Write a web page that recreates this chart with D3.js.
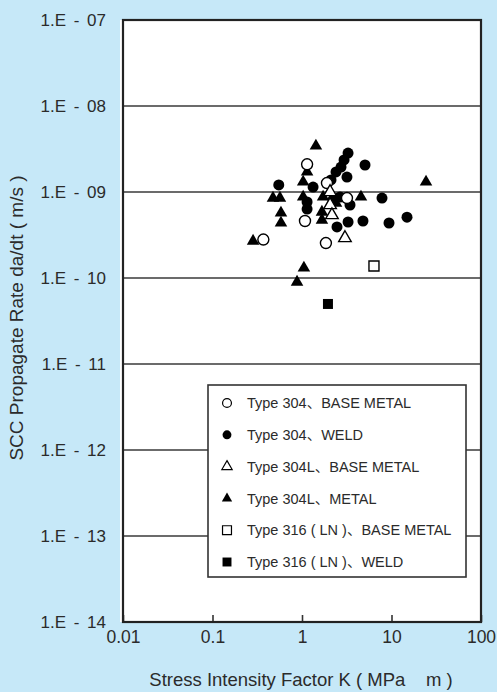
<!DOCTYPE html>
<html><head><meta charset="utf-8">
<script src="https://cdn.jsdelivr.net/npm/d3@7"></script>
<style>
html,body{margin:0;padding:0;background:#c6e8f8;}
svg{display:block;}
text{font-family:"Liberation Sans",Arial,"Noto Sans CJK JP",sans-serif;fill:#2b2b2b;white-space:pre;}
</style>
</head><body>
<svg id="c" width="497" height="692"></svg>
<script>
// ---- data ----
const xTicks = [0.01, 0.1, 1, 10, 100];
const xTickLabels = ["0.01", "0.1", "1", "10", "100"];
const yTicks = [1e-14, 1e-13, 1e-12, 1e-11, 1e-10, 1e-9, 1e-8, 1e-7];
const yTickLabels = ["1.E - 14", "1.E - 13", "1.E - 12", "1.E - 11", "1.E - 10", "1.E - 09", "1.E - 08", "1.E - 07"];
const seriesNames = ["Type 304、BASE METAL", "Type 304、WELD", "Type 304L、BASE METAL", "Type 304L、METAL", "Type 316 ( LN )、BASE METAL", "Type 316 ( LN )、WELD"];

const type304BaseK    = [0.37, 1.14, 1.08, 1.85, 1.9, 3.18];
const type304BaseRate = [2.8e-10, 2.1e-9, 4.6e-10, 2.55e-10, 1.27e-9, 8.5e-10];

const type304WeldK    = [0.55, 3.27, 2.95, 2.73, 2.4, 3.18, 2.11, 5.06, 1.33, 7.83, 14.9, 9.38, 4.8, 3.27, 2.46, 1.14, 1.14, 3.44, 2.66, 2.22];
const type304WeldRate = [1.21e-9, 2.84e-9, 2.36e-9, 1.95e-9, 1.71e-9, 1.49e-9, 1.38e-9, 2.06e-9, 1.14e-9, 8.5e-10, 5.1e-10, 4.36e-10, 4.6e-10, 4.48e-10, 3.92e-10, 7.65e-10, 6.34e-10, 7.06e-10, 8.75e-10, 8.07e-10];

const type304LBaseK    = [2.06, 2.06, 2.16, 3.02];
const type304LBaseRate = [1.0e-9, 7.06e-10, 5.4e-10, 2.92e-10];

const type304LWeldK    = [1.43, 1.14, 1.03, 1.03, 0.474, 0.567, 0.582, 0.582, 0.284, 1.05, 0.88, 24.3, 4.56, 1.72, 1.67, 1.67, 2.4];
const type304LWeldRate = [3.43e-9, 1.71e-9, 1.31e-9, 8.75e-10, 8.5e-10, 8.5e-10, 5.7e-10, 4.36e-10, 2.69e-10, 1.31e-10, 8.98e-11, 1.31e-9, 8.75e-10, 8.75e-10, 5.85e-10, 4.72e-10, 7.4e-10];

const type316BaseK    = [6.37];
const type316BaseRate = [1.38e-10];

const type316WeldK    = [1.95];
const type316WeldRate = [4.99e-11];

const xTitle = "Stress Intensity Factor K ( MPa    m )";
const yTitle = "SCC Propagate Rate da/dt ( m/s )";

// ---- build ----
const W = 497, H = 692;
const L = 123, R = 481, T = 20, B = 622;
const svg = d3.select("#c");
svg.append("rect").attr("width", W).attr("height", H).attr("fill", "#c6e8f8");

const x = d3.scaleLog().domain([0.01, 100]).range([L, R]);
const y = d3.scaleLog().domain([1e-14, 1e-7]).range([B, T]);

svg.append("rect").attr("x", L - 3).attr("y", T).attr("width", R - L + 3).attr("height", B - T).attr("fill", "#fff");

// gridlines
svg.append("g").selectAll("line").data(yTicks).join("line")
  .attr("x1", L).attr("x2", R)
  .attr("y1", d => y(d)).attr("y2", d => y(d))
  .attr("stroke", "#3a3a3a").attr("stroke-width", 1.6);

// x axis
const xAxis = d3.axisBottom(x).tickValues(xTicks).tickSize(-7).tickPadding(9)
  .tickFormat((d, i) => xTickLabels[i]);
const gx = svg.append("g").attr("transform", `translate(0,${B})`).call(xAxis);
gx.select(".domain").remove();
gx.selectAll("line").attr("stroke", "#333").attr("stroke-width", 1.6);
gx.selectAll("text").attr("font-size", 17.5).attr("fill", "#2b2b2b")
  .attr("font-family", "'Liberation Sans',Arial,sans-serif");

// y axis
const yAxis = d3.axisLeft(y).tickValues(yTicks).tickSize(0).tickPadding(17)
  .tickFormat((d, i) => yTickLabels[i]);
const gy = svg.append("g").attr("transform", `translate(${L},0)`).call(yAxis);
gy.select(".domain").remove();
gy.selectAll("text").attr("font-size", 17).attr("fill", "#2b2b2b")
  .attr("word-spacing", "3px")
  .attr("font-family", "'Liberation Sans',Arial,sans-serif");

// frame
svg.append("rect").attr("x", L).attr("y", T).attr("width", R - L).attr("height", B - T)
  .attr("fill", "none").attr("stroke", "#222").attr("stroke-width", 2.2);

// series
const series = [
  {name: seriesNames[0], K: type304BaseK, rate: type304BaseRate, sym: d3.symbolCircle, filled: false},
  {name: seriesNames[1], K: type304WeldK, rate: type304WeldRate, sym: d3.symbolCircle, filled: true},
  {name: seriesNames[2], K: type304LBaseK, rate: type304LBaseRate, sym: d3.symbolTriangle, filled: false},
  {name: seriesNames[3], K: type304LWeldK, rate: type304LWeldRate, sym: d3.symbolTriangle, filled: true},
  {name: seriesNames[4], K: type316BaseK, rate: type316BaseRate, sym: d3.symbolSquare, filled: false},
  {name: seriesNames[5], K: type316WeldK, rate: type316WeldRate, sym: d3.symbolSquare, filled: true}
];
const symSize = s => s === d3.symbolCircle ? 95 : s === d3.symbolTriangle ? 68 : 100;

const drawOrder = [1, 3, 5, 0, 2, 4];
drawOrder.forEach(si => {
  const s = series[si];
  const pts = s.K.map((k, i) => ({k, r: s.rate[i]}));
  svg.append("g").selectAll("path").data(pts).join("path")
    .attr("d", d3.symbol().type(s.sym).size(symSize(s.sym)))
    .attr("transform", d => `translate(${x(d.k)},${y(d.r)})`)
    .attr("fill", s.filled ? "#000" : "#fff")
    .attr("stroke", "#000").attr("stroke-width", s.filled ? 0 : 1.4);
});

// legend
const lg = svg.append("g");
lg.append("rect").attr("x", 208).attr("y", 385).attr("width", 258).attr("height", 192)
  .attr("fill", "#fff").attr("stroke", "#333").attr("stroke-width", 1.6);
const legSize = s => s === d3.symbolCircle ? 62 : s === d3.symbolTriangle ? 46 : 80;
series.forEach((s, i) => {
  const cy = 403 + i * 31.8;
  lg.append("path").attr("d", d3.symbol().type(s.sym).size(legSize(s.sym)))
    .attr("transform", `translate(227,${cy})`)
    .attr("fill", s.filled ? "#000" : "#fff")
    .attr("stroke", "#000").attr("stroke-width", s.filled ? 0 : 1.2);
  lg.append("text").attr("x", 247).attr("y", cy).attr("dy", "0.36em")
    .attr("font-size", 14.5).text(s.name);
});

// titles
svg.append("text").attr("x", 301).attr("y", 686).attr("text-anchor", "middle")
  .attr("font-size", 18.5).text(xTitle);
svg.append("text").attr("transform", "translate(23,318) rotate(-90)").attr("text-anchor", "middle")
  .attr("font-size", 19).text(yTitle);
</script>
</body></html>
